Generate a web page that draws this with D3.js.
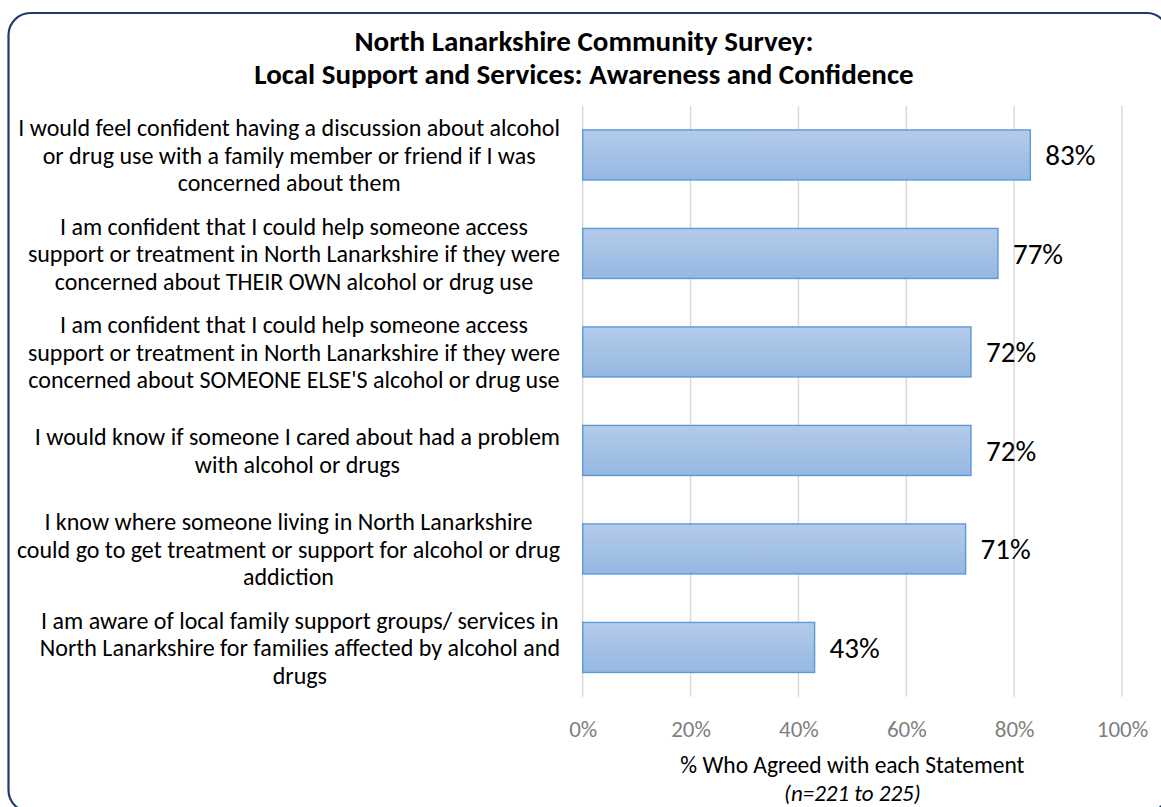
<!DOCTYPE html>
<html>
<head>
<meta charset="utf-8">
<script src="https://cdn.jsdelivr.net/npm/d3@7"></script>
<style>
  body { margin: 0; background: #fff; }
  text { font-family: Calibri, Carlito, Lato, sans-serif; }
</style>
</head>
<body>
<svg id="chart" width="1161" height="807"></svg>
<script>
// Survey statements (line breaks as they wrap on the axis)
const categories = [
  "I would feel confident having a discussion about alcohol\nor drug use with a family member or friend if I was\nconcerned about them",
  "I am confident that I could help someone access\nsupport or treatment in North Lanarkshire if they were\nconcerned about THEIR OWN alcohol or drug use",
  "I am confident that I could help someone access\nsupport or treatment in North Lanarkshire if they were\nconcerned about SOMEONE ELSE'S alcohol or drug use",
  "I would know if someone I cared about had a problem\nwith alcohol or drugs",
  "I know where someone living in North Lanarkshire\ncould go to get treatment or support for alcohol or drug\naddiction",
  "I am aware of local family support groups/ services in\nNorth Lanarkshire for families affected by alcohol and\ndrugs"
];

// Share agreeing with each statement
const values = [0.83, 0.77, 0.72, 0.72, 0.71, 0.43];

// Axis ticks
const tickValues = [0, 0.2, 0.4, 0.6, 0.8, 1.0];
const tickLabels = ["0%", "20%", "40%", "60%", "80%", "100%"];

const titleLines = [
  "North Lanarkshire Community Survey:",
  "Local Support and Services: Awareness and Confidence"
];
const axisTitle = "% Who Agreed with each Statement";
const axisNote = "(n=221 to 225)";

const svg = d3.select("#chart");

// Chart frame
svg.append("rect")
  .attr("x", 8.5).attr("y", 13)
  .attr("width", 1160).attr("height", 799)
  .attr("rx", 22).attr("ry", 22)
  .attr("fill", "#fff")
  .attr("stroke", "#1f3a6e")
  .attr("stroke-width", 2.2);

// Bar gradient
const defs = svg.append("defs");
const grad = defs.append("linearGradient")
  .attr("id", "barFill")
  .attr("x1", 0).attr("y1", 0).attr("x2", 0).attr("y2", 1);
grad.append("stop").attr("offset", "0%").attr("stop-color", "#b4cbea");
grad.append("stop").attr("offset", "100%").attr("stop-color", "#95b8e2");

const plot = { left: 582.7, right: 1122, top: 105.7, bottom: 696.7 };

const x = d3.scaleLinear().domain([0, 1]).range([plot.left, plot.right]);
const y = d3.scaleBand()
  .domain(categories)
  .range([plot.top, plot.bottom])
  .paddingInner(0.492)
  .paddingOuter(0.246);

// Title
svg.append("g").selectAll("text")
  .data(titleLines)
  .join("text")
  .attr("x", 584)
  .attr("y", (d, i) => 51 + i * 33)
  .attr("text-anchor", "middle")
  .attr("font-size", 29)
  .attr("font-weight", "bold")
  .attr("fill", "#000")
  .text(d => d);

// Vertical gridlines
svg.append("g").selectAll("line")
  .data(tickValues)
  .join("line")
  .attr("x1", d => x(d)).attr("x2", d => x(d))
  .attr("y1", plot.top).attr("y2", plot.bottom)
  .attr("stroke", "#d9d9d9")
  .attr("stroke-width", 1.5);

// X axis tick labels
const xAxis = d3.axisBottom(x)
  .tickValues(tickValues)
  .tickFormat((d, i) => tickLabels[i])
  .tickSize(0)
  .tickPadding(0);
const gx = svg.append("g")
  .attr("transform", `translate(0, 737)`)
  .call(xAxis);
gx.select(".domain").remove();
gx.selectAll("text")
  .attr("dy", 0)
  .attr("y", 0)
  .attr("font-size", 23)
  .attr("font-family", "Calibri, Carlito, Lato, sans-serif")
  .attr("fill", "#7f7f7f");

// Axis title
const axisMid = (plot.left + plot.right) / 2;
svg.append("text")
  .attr("x", axisMid).attr("y", 773)
  .attr("text-anchor", "middle")
  .attr("font-size", 23.5)
  .attr("fill", "#000")
  .text(axisTitle);
svg.append("text")
  .attr("x", axisMid).attr("y", 801)
  .attr("text-anchor", "middle")
  .attr("font-size", 23)
  .attr("font-style", "italic")
  .attr("fill", "#000")
  .text(axisNote);

// Bars
svg.append("g").selectAll("rect")
  .data(values)
  .join("rect")
  .attr("x", x(0))
  .attr("y", (d, i) => y(categories[i]))
  .attr("width", d => x(d) - x(0))
  .attr("height", y.bandwidth())
  .attr("fill", "url(#barFill)")
  .attr("stroke", "#5b9bd5")
  .attr("stroke-width", 1.4);

// Value labels
svg.append("g").selectAll("text")
  .data(values)
  .join("text")
  .attr("x", d => x(d) + 15)
  .attr("y", (d, i) => y(categories[i]) + y.bandwidth() / 2)
  .attr("dy", "0.36em")
  .attr("font-size", 29)
  .attr("fill", "#000")
  .text(d => d3.format(".0%")(d));

// Category labels: block right-aligned to the plot, lines centred in the block
const lineH = 27.5;
const labelRight = 560;
const gl = svg.append("g");
categories.forEach(cat => {
  const lines = cat.split("\n");
  const cy = y(cat) + y.bandwidth() / 2;
  const g = gl.append("g");
  const texts = g.selectAll("text")
    .data(lines)
    .join("text")
    .attr("y", (d, i) => cy + (i - (lines.length - 1) / 2) * lineH)
    .attr("dy", "0.36em")
    .attr("text-anchor", "middle")
    .attr("font-size", 24)
    .attr("fill", "#000")
    .text(d => d);
  const w = d3.max(texts.nodes(), n => n.getComputedTextLength());
  texts.attr("x", labelRight - w / 2);
});
</script>
</body>
</html>
